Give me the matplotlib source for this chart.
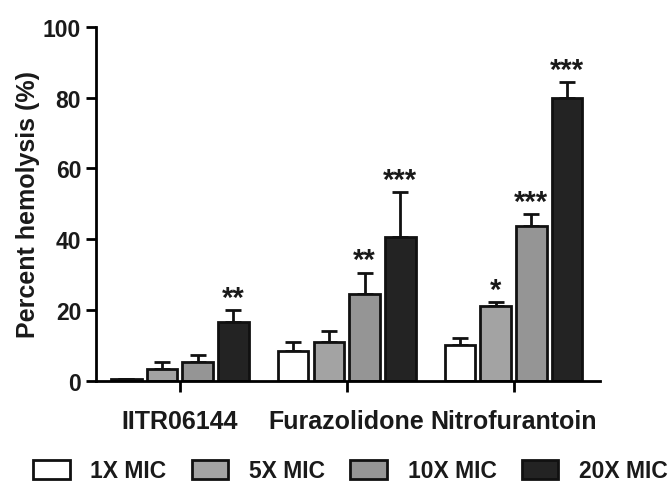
import numpy as np
import matplotlib.pyplot as plt
from matplotlib.patches import Patch

plt.rcParams['font.family'] = ['Liberation Sans', 'DejaVu Sans']
plt.rcParams['font.weight'] = 'bold'

# data
groups = ['IITR06144', 'Furazolidone', 'Nitrofurantoin']
series = ['1X MIC', '5X MIC', '10X MIC', '20X MIC']
means = {
    '1X MIC': [0.5, 8.5, 10.2],
    '5X MIC': [3.4, 11.0, 21.2],
    '10X MIC': [5.4, 24.6, 43.8],
    '20X MIC': [16.7, 40.7, 80.0],
}
errs = {
    '1X MIC': [0.0, 2.5, 2.0],
    '5X MIC': [2.0, 3.0, 1.1],
    '10X MIC': [2.0, 6.0, 3.4],
    '20X MIC': [3.4, 12.7, 4.3],
}
stars = {
    '1X MIC': ['', '', ''],
    '5X MIC': ['', '', '*'],
    '10X MIC': ['', '**', '***'],
    '20X MIC': ['**', '***', '***'],
}
colors = ['white', '#a3a3a3', '#959595', '#232323']

fig = plt.figure(figsize=(6.7, 4.89), dpi=100)
ax = fig.add_axes([0.143, 0.219, 0.753, 0.724])

x = np.arange(len(groups))
width = 0.183
step = 0.214
offsets = (np.arange(4) - 1.5) * step

for i, s in enumerate(series):
    xs = x + offsets[i]
    ax.bar(xs, means[s], width, color=colors[i], edgecolor='#111111', linewidth=2, zorder=2)
    ax.errorbar(xs, means[s], yerr=[np.zeros(3), errs[s]], fmt='none', ecolor='#111111',
                elinewidth=2, capsize=6, capthick=2, zorder=1)
    for xi, m, e, st in zip(xs, means[s], errs[s], stars[s]):
        if st:
            ax.text(xi, m + e - 0.5, st, ha='center', va='bottom', fontsize=21,
                    fontweight='bold', color='#1a1a1a')

ax.set_xlim(-0.504, 2.52)
ax.set_ylim(0, 100)
ax.set_yticks(range(0, 101, 20))
ax.set_xticks(x)
ax.set_xticklabels(groups, fontsize=18, fontweight='bold', color='#1a1a1a')
ax.tick_params(axis='x', length=8, width=2, pad=12)
ax.tick_params(axis='y', length=7, width=2, labelsize=16.5, labelcolor='#1a1a1a')
for lab in ax.get_yticklabels():
    lab.set_fontweight('bold')
ax.spines['top'].set_visible(False)
ax.spines['right'].set_visible(False)
ax.spines['left'].set_linewidth(2)
ax.spines['bottom'].set_linewidth(2)
ax.set_ylabel('Percent hemolysis (%)', fontsize=18, fontweight='bold', labelpad=2,
              color='#1a1a1a')

handles = [Patch(facecolor=c, edgecolor='#111111', linewidth=2) for c in colors]
fig.legend(handles, series, loc='lower center', ncol=4, frameon=False,
           bbox_to_anchor=(0.523, -0.012), handlelength=1.6, handleheight=0.9,
           columnspacing=1.1, handletextpad=0.9, borderpad=0,
           prop={'weight': 'bold', 'size': 16.5}, labelcolor='#1a1a1a')

fig.savefig('out.png', dpi=100)
